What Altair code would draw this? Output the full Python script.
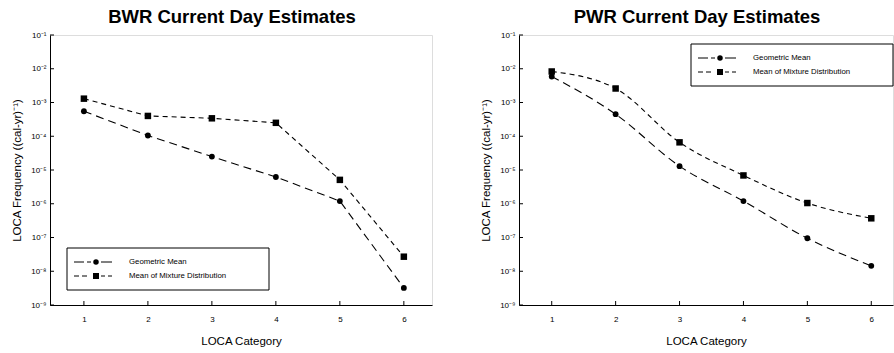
import altair as alt
import pandas as pd

categories = [1, 2, 3, 4, 5, 6]
series_names = ["Geometric Mean", "Mean of Mixture Distribution"]
bwr_geo = [5.5e-4, 1.05e-4, 2.5e-5, 6.2e-6, 1.2e-6, 3.2e-9]
bwr_mix = [1.3e-3, 4.0e-4, 3.4e-4, 2.5e-4, 5.1e-6, 2.7e-8]
pwr_geo = [5.9e-3, 4.5e-4, 1.3e-5, 1.2e-6, 9.5e-8, 1.45e-8]
pwr_mix = [8.3e-3, 2.6e-3, 6.6e-5, 6.9e-6, 1.05e-6, 3.7e-7]
y_ticks = [1e-9, 1e-8, 1e-7, 1e-6, 1e-5, 1e-4, 1e-3, 1e-2, 1e-1]
panel_titles = ["BWR Current Day Estimates", "PWR Current Day Estimates"]
x_title = "LOCA Category"
y_title = "LOCA Frequency ((cal-yr)⁻¹)"

FONT = "Liberation Sans"
H = 270
GEO_DASH = [8, 5]
MIX_DASH = [5, 4]

label_expr = ("'10' + '⁻' + ['⁰','¹','²','³','⁴','⁵','⁶','⁷','⁸','⁹']"
              "[round(-log(datum.value)/LN10)]")


def legend_box(bx, by):
    """Framed legend drawn in the panel's pixel space (layout only)."""
    one = alt.Chart(pd.DataFrame({"k": [0]}))
    layers = [one.mark_rect(fill="white", stroke="black", strokeWidth=1).encode(
        x=alt.value(bx), x2=alt.value(bx + 202), y=alt.value(by), y2=alt.value(by + 42))]
    rows = [(by + 14, "circle", [10, 3], 24, [100, 0], series_names[0]),
            (by + 28, "square", [5, 3], 22, [4, 3], series_names[1])]
    for yy, shp, dl, lend, dr, name in rows:
        layers.append(one.mark_rule(color="black", strokeWidth=1, strokeDash=dl).encode(
            x=alt.value(bx + 7), x2=alt.value(bx + lend), y=alt.value(yy)))
        layers.append(one.mark_rule(color="black", strokeWidth=1, strokeDash=dr).encode(
            x=alt.value(bx + 34), x2=alt.value(bx + 45), y=alt.value(yy)))
        layers.append(one.mark_point(shape=shp, filled=True, color="black", opacity=1,
                                     size=30 if shp == "circle" else 36).encode(
            x=alt.value(bx + 29), y=alt.value(yy)))
        layers.append(one.mark_text(align="left", baseline="middle", font=FONT,
                                    fontSize=7.8, color="black").encode(
            x=alt.value(bx + 62), y=alt.value(yy), text=alt.value(name)))
    return layers


def panel(title, geo, mix, width, xdom, interp, lx, ly, tdx):
    df = pd.DataFrame({
        "cat": categories * 2,
        "val": geo + mix,
        "series": [series_names[0]] * len(categories) + [series_names[1]] * len(categories),
    })
    xs = alt.Scale(domain=xdom, nice=False, zero=False)
    ys = alt.Scale(type="log", domain=[1e-9, 1e-1], nice=False)
    X = alt.X("cat:Q", scale=xs, title=x_title,
              axis=alt.Axis(values=categories, format="d", ticks=False, grid=False,
                            labelFontSize=8, labelPadding=10, titleFontSize=11.5,
                            titlePadding=12, titleFontWeight="normal",
                            domainColor="black", labelColor="black",
                            titleColor="black", labelFont=FONT, titleFont=FONT))
    Y = alt.Y("val:Q", scale=ys, title=y_title,
              axis=alt.Axis(values=y_ticks, labelExpr=label_expr, ticks=False, grid=False,
                            labelFontSize=8, labelPadding=4, titleFontSize=11.5,
                            titlePadding=8, titleFontWeight="normal",
                            domainColor="black", labelColor="black",
                            titleColor="black", labelFont=FONT, titleFont=FONT))
    base = alt.Chart(df)
    geo_f = base.transform_filter(alt.datum.series == series_names[0])
    mix_f = base.transform_filter(alt.datum.series == series_names[1])
    geo_line = geo_f.mark_line(color="black", strokeWidth=1.1, strokeDash=GEO_DASH,
                               interpolate=interp).encode(x=X, y=Y)
    mix_line = mix_f.mark_line(color="black", strokeWidth=1.1, strokeDash=MIX_DASH,
                               interpolate=interp).encode(x=X, y=Y)
    geo_pt = geo_f.mark_point(shape="circle", filled=True, color="black", size=34,
                              opacity=1).encode(x=X, y=Y)
    mix_pt = mix_f.mark_point(shape="square", filled=True, color="black", size=42,
                              opacity=1).encode(x=X, y=Y)
    ytick_df = pd.DataFrame({"val": y_ticks})
    ytk = alt.Chart(ytick_df).mark_rule(color="black", strokeWidth=1).encode(
        y=alt.Y("val:Q", scale=ys), x=alt.value(0), x2=alt.value(4))
    xtick_df = pd.DataFrame({"cat": categories})
    xtk = alt.Chart(xtick_df).mark_rule(color="black", strokeWidth=1).encode(
        x=alt.X("cat:Q", scale=xs), y=alt.value(H), y2=alt.value(H - 4))
    return alt.layer(geo_line, mix_line, geo_pt, mix_pt, ytk, xtk,
                     *legend_box(lx, ly)).properties(
        width=width, height=H,
        title=alt.TitleParams(title, fontSize=18.5, fontWeight="bold", font=FONT,
                              color="black", anchor="middle", offset=5, dx=tdx))


left = panel(panel_titles[0], bwr_geo, bwr_mix, 382, [0.47, 6.44], "linear", 17, 213, -9)
right = panel(panel_titles[1], pwr_geo, pwr_mix, 374, [0.488, 6.34], "monotone", 172, 9, -9)

chart = alt.hconcat(left, right, spacing=47).properties(
    padding={"left": 11, "top": 7, "right": 0, "bottom": 0}
).configure_view(stroke="black", strokeWidth=1.2).configure(
    background="white"
)

chart.save("out.html", embed_options={"renderer": "svg", "actions": False})
